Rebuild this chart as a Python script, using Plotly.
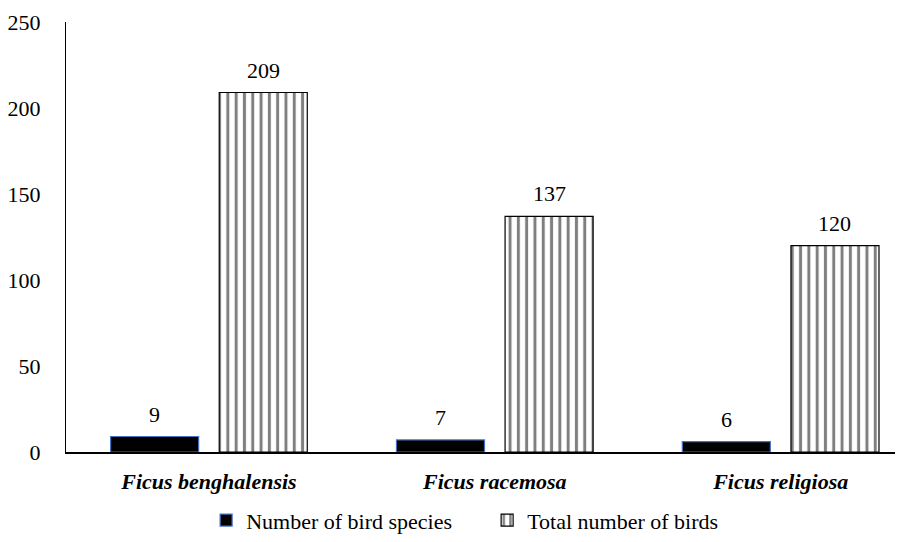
import plotly.graph_objects as go

species = ["Ficus benghalensis", "Ficus racemosa", "Ficus religiosa"]
bird_species = [9, 7, 6]
total_birds = [209, 137, 120]

x_idx = list(range(len(species)))
FONT = "Liberation Serif, Times New Roman, serif"
FS = 22
BAR_W = 0.308
OFFSETS = [-0.344, 0.036]

fig = go.Figure()
fig.add_trace(go.Bar(
    name="Number of bird species",
    x=x_idx, y=bird_species,
    width=BAR_W, offset=OFFSETS[0],
    marker=dict(color="black", line=dict(color="#4472C4", width=1.2)),
))
fig.add_trace(go.Bar(
    name="Total number of birds",
    x=x_idx, y=total_birds,
    width=BAR_W, offset=OFFSETS[1],
    marker=dict(color="white", line=dict(color="black", width=1.2),
                pattern=dict(shape="|", size=8.3, solidity=0.36,
                             fgcolor="black", bgcolor="white")),
))

# value labels above each bar
for vals, off in ((bird_species, OFFSETS[0]), (total_birds, OFFSETS[1])):
    for i, v in zip(x_idx, vals):
        fig.add_annotation(x=i + off + BAR_W / 2, y=v, text=str(v),
                           showarrow=False, yanchor="bottom", yshift=8,
                           font=dict(family=FONT, size=FS, color="black"))

fig.update_layout(
    width=911, height=542,
    margin=dict(l=66, r=16, t=22, b=90, autoexpand=False),
    paper_bgcolor="white", plot_bgcolor="white",
    barmode="overlay",
    font=dict(family=FONT, size=FS, color="black"),
    showlegend=True,
    legend=dict(orientation="h", x=0.508, xanchor="center",
                yref="container", y=0.04, yanchor="middle",
                font=dict(family=FONT, size=FS, color="black"),
                itemwidth=30, traceorder="normal",
                entrywidth=236, entrywidthmode="pixels"),
    xaxis=dict(
        range=[-0.5, 2.4],
        tickmode="array", tickvals=x_idx,
        ticktext=[f"<b><i>{s}</i></b>" for s in species],
        showline=True, linecolor="black", linewidth=2,
        showgrid=False, zeroline=False, ticks="",
        ticklabelstandoff=9,
        tickfont=dict(family=FONT, size=FS, color="black"),
    ),
    yaxis=dict(
        range=[0, 250], tickvals=[0, 50, 100, 150, 200, 250],
        showline=True, linecolor="black", linewidth=1,
        showgrid=False, zeroline=False, ticks="",
        ticklabelstandoff=20,
        tickfont=dict(family=FONT, size=FS, color="black"),
    ),
)

fig.write_html("out.html")
